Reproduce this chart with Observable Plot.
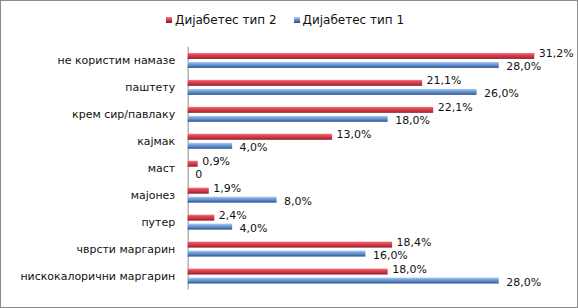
<!DOCTYPE html>
<html>
<head>
<meta charset="utf-8">
<script src="https://cdn.jsdelivr.net/npm/d3@7"></script>
<script src="https://cdn.jsdelivr.net/npm/@observablehq/plot@0.6"></script>
<style>
  html, body { margin: 0; padding: 0; background: #fff; }
  #wrap { position: relative; width: 578px; height: 308px; box-sizing: border-box; border: 1px solid #8a8a8a; overflow: hidden; font-family: "DejaVu Sans", sans-serif; }
  #legend { position: absolute; top: 12px; left: 165px; font-size: 12px; color: #111; display: flex; gap: 0; white-space: nowrap; }
  #legend .item { display: flex; align-items: center; }
  #legend .sw { width: 6px; height: 6px; margin-right: 3px; }
  #chart { position: absolute; left: -1px; top: -1px; }
</style>
</head>
<body>
<div id="wrap">
  <div id="legend"></div>
  <div id="chart"></div>
</div>
<script>
const categories = ["не користим намазе", "паштету", "крем сир/павлаку", "кајмак", "маст", "мајонез", "путер", "чврсти маргарин", "нискокалорични маргарин"];
const seriesNames = ["Дијабетес тип 2", "Дијабетес тип 1"];
const type2 = [31.2, 21.1, 22.1, 13.0, 0.9, 1.9, 2.4, 18.4, 18.0];
const type1 = [28.0, 26.0, 18.0, 4.0, 0, 8.0, 4.0, 16.0, 28.0];

const rows = [];
categories.forEach((c, i) => {
  rows.push({category: c, series: seriesNames[0], value: type2[i]});
  rows.push({category: c, series: seriesNames[1], value: type1[i]});
});
const fmt = v => v === 0 ? "0" : v.toFixed(1).replace(".", ",") + "%";

const red = rows.filter(d => d.series === seriesNames[0]);
const blue = rows.filter(d => d.series === seriesNames[1]);

const svg = Plot.plot({
  width: 578,
  height: 308,
  marginLeft: 188,
  marginRight: 0,
  marginTop: 47,
  marginBottom: 18,
  style: {fontFamily: "DejaVu Sans, sans-serif", fontSize: "11px", background: "transparent", color: "#111"},
  x: {domain: [0, 35.04], axis: null},
  fy: {domain: categories, padding: 0, label: null, tickSize: 0, tickPadding: 13, axis: "left"},
  y: {domain: seriesNames, axis: null, paddingInner: 0.32, paddingOuter: 0.58},
  facet: {data: rows, y: "category"},
  marks: [
    Plot.ruleX([0], {stroke: "#8c8c8c", strokeWidth: 1}),
    Plot.barX(red, {x: "value", y: "series", fy: "category", fill: "url(#gRed)"}),
    Plot.barX(blue, {x: "value", y: "series", fy: "category", fill: "url(#gBlue)"}),
    Plot.text(red, {x: "value", y: "series", fy: "category", text: d => fmt(d.value), textAnchor: "start", dx: 4, dy: -3, fill: "#111", fontSize: 11}),
    Plot.text(blue, {x: "value", y: "series", fy: "category", text: d => fmt(d.value), textAnchor: "start", dx: 7, dy: 1, fill: "#111", fontSize: 11})
  ]
});

const defs = d3.select(svg).insert("defs", ":first-child");
function grad(id, stops) {
  const g = defs.append("linearGradient").attr("id", id).attr("x1", 0).attr("y1", 0).attr("x2", 0).attr("y2", 1);
  stops.forEach(([o, c]) => g.append("stop").attr("offset", o).attr("stop-color", c));
}
grad("gRed", [[0, "#f0808a"], [0.3, "#e04858"], [0.7, "#c8303e"], [1, "#7e1a22"]]);
grad("gBlue", [[0, "#b8d2f2"], [0.3, "#7aa6dc"], [0.7, "#4f7fc0"], [1, "#2c4a80"]]);
document.getElementById("chart").appendChild(svg);

const legend = d3.select("#legend");
seriesNames.forEach((s, i) => {
  const it = legend.append("div").attr("class", "item").style("margin-right", i === 0 ? "17px" : "0");
  it.append("div").attr("class", "sw").style("background", i === 0 ? "linear-gradient(#f08090,#c8303e 60%,#7e1a22)" : "linear-gradient(#b8d2f2,#4f7fc0 60%,#2c4a80)");
  it.append("span").text(s);
});
</script>
</body>
</html>
